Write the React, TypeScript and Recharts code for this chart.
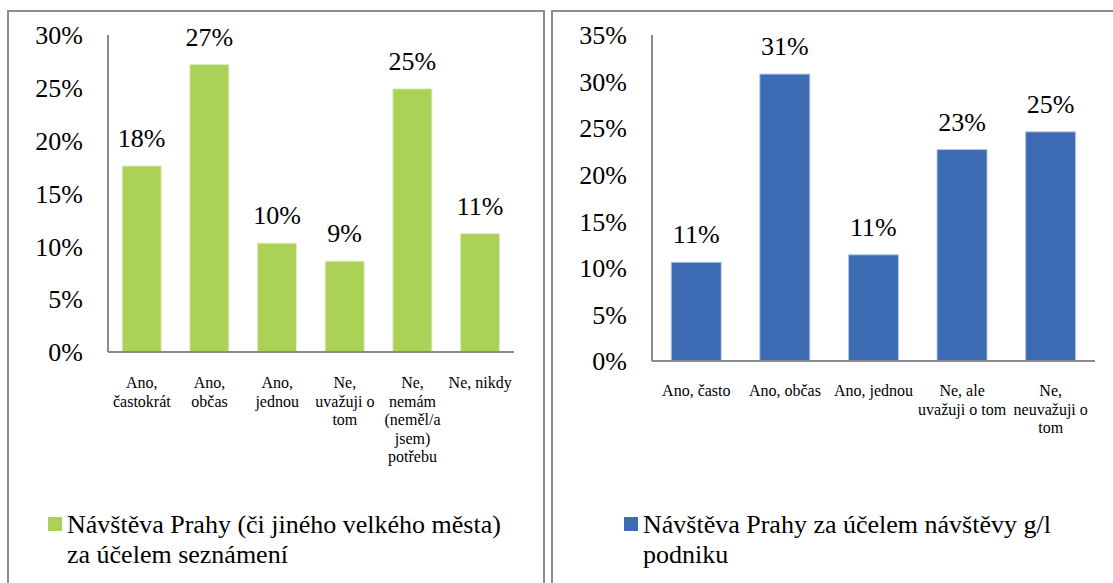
import React from "react";
import { BarChart, Bar, XAxis, YAxis, LabelList } from "recharts";

const FONT = "Liberation Serif, DejaVu Serif, serif";

// "\n" marks where the original wraps the category label
const leftCategories = [
  "Ano,\nčastokrát",
  "Ano,\nobčas",
  "Ano,\njednou",
  "Ne,\nuvažuji o\ntom",
  "Ne,\nnemám\n(neměl/a\njsem)\npotřebu",
  "Ne, nikdy",
];
const leftValues = [17.6, 27.2, 10.3, 8.6, 24.9, 11.2];
const leftTicks = [0, 5, 10, 15, 20, 25, 30];
const leftSeries = "Návštěva Prahy (či jiného velkého města) za účelem seznámení";

const rightCategories = [
  "Ano, často",
  "Ano, občas",
  "Ano, jednou",
  "Ne, ale\nuvažuji o tom",
  "Ne,\nneuvažuji o\ntom",
];
const rightValues = [10.6, 30.8, 11.4, 22.7, 24.6];
const rightTicks = [0, 5, 10, 15, 20, 25, 30, 35];
const rightSeries = "Návštěva Prahy za účelem návštěvy g/l podniku";

const leftColor = "#abd157";
const rightColor = "#3c6bb3";

const leftData = leftCategories.map((name, i) => ({ name, value: leftValues[i] }));
const rightData = rightCategories.map((name, i) => ({ name, value: rightValues[i] }));

const pct = (v: number) => `${v}%`;
const roundPct = (v: any) => `${Math.round(Number(v))}%`;

const CategoryTick = (props: any) => {
  const { x, y, payload } = props;
  const lines = String(payload.value).split("\n");
  return (
    <text x={x} y={y} textAnchor="middle" fill="#000" fontSize={16} fontFamily={FONT}>
      {lines.map((line, i) => (
        <tspan key={i} x={x} dy={i === 0 ? "0.71em" : 18.4}>
          {line}
        </tspan>
      ))}
    </text>
  );
};

// legend drawn as plain html so it does not squeeze the plot
const LegendBox = ({ left, color, label }: { left: number; color: string; label: string }) => (
  <div
    style={{
      position: "absolute",
      left,
      top: 510,
      display: "flex",
      alignItems: "flex-start",
      fontFamily: FONT,
      fontSize: 26,
      lineHeight: "30px",
      color: "#000",
    }}
  >
    <span
      style={{ width: 14, height: 14, background: color, marginTop: 7, marginRight: 5, flex: "none" }}
    />
    <span style={{ width: 460 }}>{label}</span>
  </div>
);

const axisStroke = "#8a8a8a";

const App = () => {
  return (
    <div
      style={{
        position: "absolute",
        left: 0,
        top: 0,
        width: 1113,
        height: 583,
        overflow: "hidden",
        background: "#fff",
      }}
    >
      <div
        style={{
          position: "absolute",
          left: 7,
          top: 10,
          width: 538,
          height: 620,
          border: "2px solid #8c8c8c",
          boxSizing: "border-box",
        }}
      />
      <div
        style={{
          position: "absolute",
          left: 551,
          top: 10,
          width: 620,
          height: 620,
          border: "2px solid #8c8c8c",
          boxSizing: "border-box",
        }}
      />

      {/* left panel */}
      <div style={{ position: "absolute", left: 0, top: 0 }}>
        <BarChart
          width={548}
          height={583}
          data={leftData}
          margin={{ top: 35, right: 34, left: 0, bottom: 171 }}
          barCategoryGap="21%"
        >
          <XAxis
            dataKey="name"
            interval={0}
            height={60}
            tickLine={false}
            tickSize={0}
            tickMargin={25}
            axisLine={{ stroke: axisStroke, strokeWidth: 2 }}
            tick={<CategoryTick />}
          />
          <YAxis
            width={108}
            domain={[0, 30]}
            ticks={leftTicks}
            tickFormatter={pct}
            tickLine={false}
            tickSize={0}
            tickMargin={25}
            axisLine={{ stroke: axisStroke, strokeWidth: 2 }}
            tick={{ fill: "#000", fontSize: 26, fontFamily: FONT }}
          />
          <Bar
            dataKey="value"
            name={leftSeries}
            fill={leftColor}
            stroke="#dcecbc"
            strokeWidth={1}
            isAnimationActive={false}
          >
            <LabelList
              dataKey="value"
              position="top"
              offset={19}
              formatter={roundPct}
              fill="#000"
              fontSize={26}
              fontFamily={FONT}
            />
          </Bar>
        </BarChart>
      </div>
      <LegendBox left={48} color={leftColor} label={leftSeries} />

      {/* right panel */}
      <div style={{ position: "absolute", left: 552, top: 0 }}>
        <BarChart
          width={561}
          height={583}
          data={rightData}
          margin={{ top: 35, right: 18, left: 0, bottom: 162 }}
          barCategoryGap="21.7%"
        >
          <XAxis
            dataKey="name"
            interval={0}
            height={60}
            tickLine={false}
            tickSize={0}
            tickMargin={24}
            axisLine={{ stroke: axisStroke, strokeWidth: 2 }}
            tick={<CategoryTick />}
          />
          <YAxis
            width={100}
            domain={[0, 35]}
            ticks={rightTicks}
            tickFormatter={pct}
            tickLine={false}
            tickSize={0}
            tickMargin={25}
            axisLine={{ stroke: axisStroke, strokeWidth: 2 }}
            tick={{ fill: "#000", fontSize: 26, fontFamily: FONT }}
          />
          <Bar
            dataKey="value"
            name={rightSeries}
            fill={rightColor}
            stroke="#b4c7e6"
            strokeWidth={1}
            isAnimationActive={false}
          >
            <LabelList
              dataKey="value"
              position="top"
              offset={19}
              formatter={roundPct}
              fill="#000"
              fontSize={26}
              fontFamily={FONT}
            />
          </Bar>
        </BarChart>
      </div>
      <LegendBox left={624} color={rightColor} label={rightSeries} />
    </div>
  );
};

export default App;
